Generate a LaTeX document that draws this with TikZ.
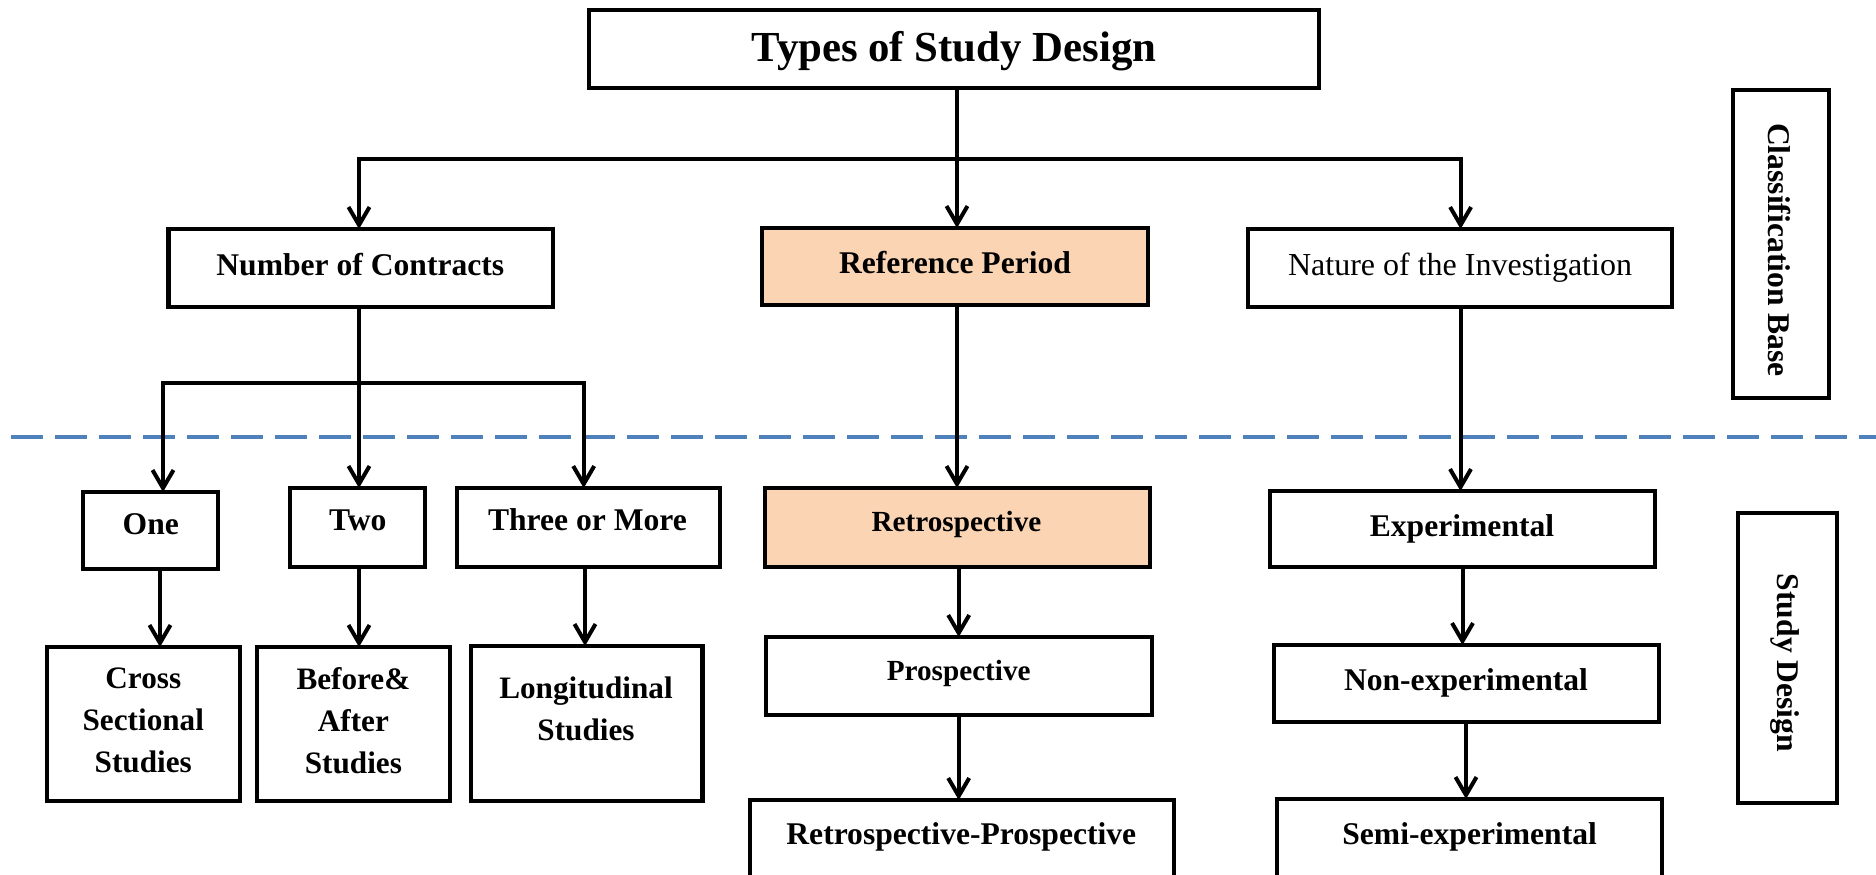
\documentclass[tikz,border=0pt]{standalone}
\usepackage{fontspec}
\setmainfont{Liberation Serif}
\usetikzlibrary{arrows.meta}
\definecolor{peach}{HTML}{FBD4B4}
\definecolor{divider}{HTML}{4F81BD}
\begin{document}
\begin{tikzpicture}[x=1pt, y=-1pt,
  >={Straight Barb[length=18pt, width=21pt]},
  box/.style={draw=black, line width=4.5pt, rectangle, inner sep=0pt, outer sep=0pt},
  hlbox/.style={box, fill=peach},
  txt/.style={inner sep=0pt, anchor=base, font=\bfseries\fontsize{31.6}{42}\selectfont},
  txtsm/.style={txt, font=\bfseries\fontsize{29.2}{36}\selectfont},
  txtreg/.style={txt, font=\fontsize{32}{40}\selectfont},
  txtbig/.style={txt, font=\bfseries\fontsize{42.8}{50}\selectfont},
  txtml/.style={inner sep=0pt, anchor=center, align=center, font=\bfseries\fontsize{31.2}{42}\selectfont},
  side/.style={txt, rotate=-90},
  link/.style={line width=4pt},
  arr/.style={link, ->},
  arrs/.style={link, <->},
  divline/.style={draw=divider, line width=4pt, dash pattern=on 32pt off 12pt},
]
\useasboundingbox (0,0) rectangle (1876,875);

% divider between classification base and study designs
\coordinate (divL) at (11,437);
\coordinate (divR) at (1876,437);
\draw[divline] (divL) -- (divR);

% boxes
\node[box,   minimum width=730pt,   minimum height=78pt]  (title)  at (954,49) {};
\node[box,   minimum width=384.5pt, minimum height=78pt]  (noc)    at (360.75,268) {};
\node[hlbox, minimum width=386pt,   minimum height=77pt]  (refp)   at (955,266.5) {};
\node[box,   minimum width=424pt,   minimum height=78pt]  (nature) at (1460,268) {};
\node[box,   minimum width=96pt,    minimum height=308pt] (cbase)  at (1781,244) {};
\node[box,   minimum width=135pt,   minimum height=77pt]  (one)    at (150.5,530.5) {};
\node[box,   minimum width=135pt,   minimum height=79pt]  (two)    at (357.5,527.5) {};
\node[box,   minimum width=263pt,   minimum height=79pt]  (three)  at (588.5,527.5) {};
\node[hlbox, minimum width=385pt,   minimum height=79pt]  (retro)  at (957.5,527.5) {};
\node[box,   minimum width=385pt,   minimum height=76pt]  (exper)  at (1462.5,529) {};
\node[box,   minimum width=193pt,   minimum height=154pt] (cross)  at (143.5,724) {};
\node[box,   minimum width=193pt,   minimum height=154pt] (before) at (353.5,724) {};
\node[box,   minimum width=231.5pt, minimum height=155pt] (longi)  at (586.75,723.5) {};
\node[box,   minimum width=386pt,   minimum height=78pt]  (prosp)  at (959,676) {};
\node[box,   minimum width=385pt,   minimum height=77pt]  (nonexp) at (1466.5,683.5) {};
\node[box,   minimum width=424pt,   minimum height=80pt]  (rpro)   at (962,840) {};
\node[box,   minimum width=385pt,   minimum height=81pt]  (semi)   at (1469.5,839.5) {};
\node[box,   minimum width=99pt,    minimum height=290pt] (sdbox)  at (1787.5,658) {};

% texts
\node[txtbig] (titleT)  at (954,61.7)   {Types of Study Design};
\node[txt]    (nocT)    at (360.3,275)  {Number of Contracts};
\node[txt]    (refpT)   at (955,273)    {Reference Period};
\node[txtreg] (natureT) at (1460,275)   {Nature of the Investigation};
\node[txt]    (oneT)    at (150.8,534)  {One};
\node[txt]    (twoT)    at (357.8,530.7){Two};
\node[txt]    (threeT)  at (587.5,530)  {Three or More};
\node[txtsm]  (retroT)  at (956.5,531.7){Retrospective};
\node[txt]    (experT)  at (1462,536)   {Experimental};
\node[txtsm]  (prospT)  at (958.7,680.7){Prospective};
\node[txt]    (nonexpT) at (1466,690)   {Non-experimental};
\node[txt]    (rproT)   at (961.3,844)  {Retrospective-Prospective};
\node[txt]    (semiT)   at (1469.6,844.3){Semi-experimental};
\node[txtml]  (crossT)  at (143.3,720.5) {Cross\\Sectional\\Studies};
\node[txtml]  (beforeT) at (353.4,720.5) {Before\&\\After\\Studies};
\node[txtml]  (longiT)  at (586,709)     {Longitudinal\\Studies};
\node[side]   (cbaseT)  at (1768.5,250)  {Classification Base};
\node[side]   (sdT)     at (1777,663)    {Study Design};

% connectors
\coordinate (jL) at (359,159.3);
\coordinate (jR) at (1460.6,159.3);
\coordinate (sL) at (163,383.3);
\coordinate (sR) at (583.7,383.3);
\draw[arr]  (title.south -| 957,0) -- (refp.north -| 957,0);
\draw[arrs] (noc.north -| jL) -- (jL) -- (jR) -- (nature.north -| jR);
\draw[arr]  (noc.south -| jL) -- (two.north -| jL);
\draw[arrs] (one.north -| sL) -- (sL) -- (sR) -- (three.north -| sR);
\draw[arr]  (one.south -| 160,0)    -- (cross.north -| 160,0);
\draw[arr]  (two.south -| 359,0)    -- (before.north -| 359,0);
\draw[arr]  (three.south -| 585,0)  -- (longi.north -| 585,0);
\draw[arr]  (refp.south -| 957,0)   -- (retro.north -| 957,0);
\draw[arr]  (retro.south -| 958.7,0) -- (prosp.north -| 958.7,0);
\draw[arr]  (prosp.south -| 958.7,0) -- (rpro.north -| 958.7,0);
\draw[arr]  (nature.south -| 1460.5,0) -- (exper.north -| 1460.5,0);
\draw[arr]  (exper.south -| 1462.5,0)  -- (nonexp.north -| 1462.5,0);
\draw[arr]  (nonexp.south -| 1466,0)   -- (semi.north -| 1466,0);
\end{tikzpicture}
\end{document}
